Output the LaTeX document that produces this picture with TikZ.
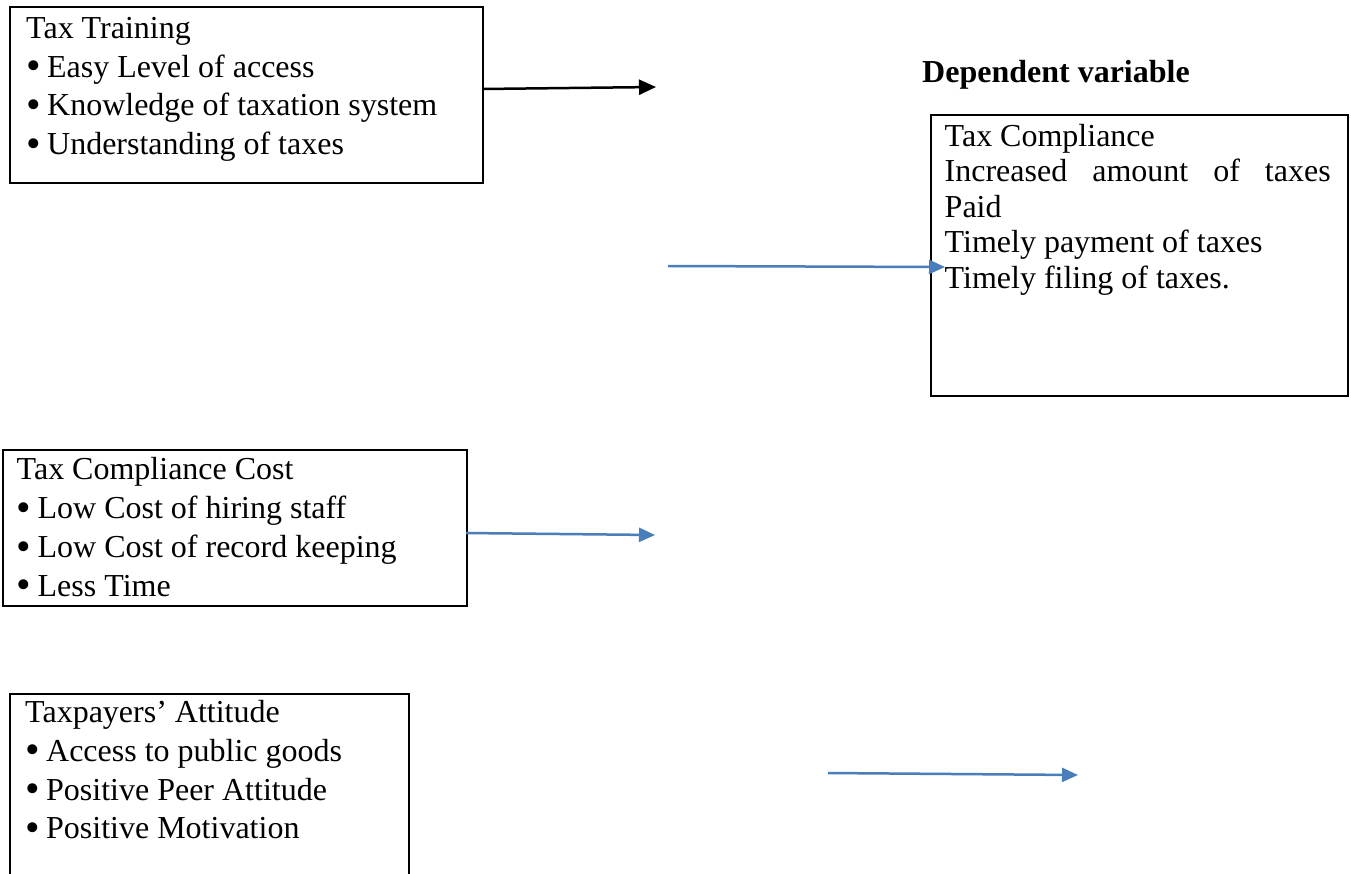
\documentclass[tikz,border=0pt]{standalone}
\usepackage{fontspec}
\setmainfont{Liberation Serif}
\usetikzlibrary{positioning}
\usetikzlibrary{arrows.meta}
\definecolor{arrowblue}{RGB}{74,126,187}
\newcommand{\itemdot}{\raisebox{-2.5pt}{\scalebox{1.3}{\textbullet}}\hspace{0.2em}}

\begin{document}
\begin{tikzpicture}[x=1pt,y=-1pt,
		varbox/.style={draw, line width=2pt, anchor=north west, inner sep=0pt},
		vartext/.style={anchor=north west, align=left, inner sep=0pt, font=\fontsize{32}{38.8}\selectfont},
		blackarrow/.style={line width=2.5pt, -{Triangle[length=17pt,width=15pt]}},
		bluearrow/.style={draw=arrowblue, line width=2.5pt, -{Triangle[length=16pt,width=14pt]}}]
		\useasboundingbox (0,0) rectangle (1351,873);

		% Define the boxes
		\node[varbox, minimum width=473pt, minimum height=176pt] (train) at (9,6) {};
		\node[varbox, minimum width=417pt, minimum height=281pt] (comply) at (930,114) {};
		\node[varbox, minimum width=464pt, minimum height=156pt] (cost) at (2,449) {};
		\node[varbox, minimum width=399pt, minimum height=230pt] (attitude) at (9,693) {};

		% Texts of the boxes
		\node[vartext] (trainText) at ([xshift=17pt, yshift=-11pt]train.north west)
			{Tax Training\\ \itemdot Easy Level of access\\ \itemdot Knowledge of taxation system\\ \itemdot Understanding of taxes};
		\node[vartext, font=\fontsize{32}{35.5}\selectfont] (complyText) at ([xshift=14.5pt, yshift=-10pt]comply.north west)
			{Tax Compliance\\ \makebox[386pt][s]{Increased amount of taxes}\\ Paid\\ Timely payment of taxes\\ Timely filing of taxes.};
		\node[vartext] (costText) at ([xshift=14.5pt, yshift=-8.5pt]cost.north west)
			{Tax Compliance Cost\\ \itemdot Low Cost of hiring staff\\ \itemdot Low Cost of record keeping\\ \itemdot Less Time};
		\node[vartext] (attitudeText) at ([xshift=16pt, yshift=-7pt]attitude.north west)
			{Taxpayers’ Attitude\\ \itemdot Access to public goods\\ \itemdot Positive Peer Attitude\\ \itemdot Positive Motivation};

		\node[anchor=base west, inner sep=0pt, font=\fontsize{32}{36}\selectfont\bfseries] (depLabel) at (922,82) {Dependent variable};

		% Define the arrow ends
		\coordinate (trainOut) at (482,89);
		\coordinate (trainEnd) at (656,87);
		\coordinate (midStart) at (668,266);
		\coordinate (midEnd) at (945,267);
		\coordinate (costOut) at (466,533);
		\coordinate (costEnd) at (655,535);
		\coordinate (lowStart) at (828,773);
		\coordinate (lowEnd) at (1078,775);

		% Draw the arrows
		\draw[blackarrow] (trainOut) -- (trainEnd);
		\foreach \from/\to in {midStart/midEnd, costOut/costEnd, lowStart/lowEnd}
			\draw[bluearrow] (\from) -- (\to);
	\end{tikzpicture}
\end{document}
